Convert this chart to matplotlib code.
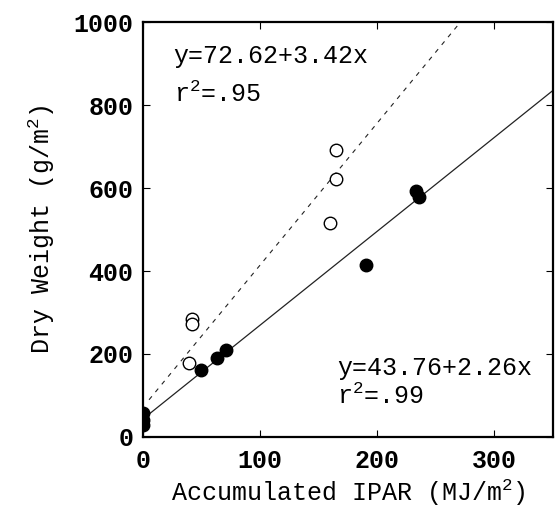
#!/usr/bin/env python3
"""Dry weight vs accumulated IPAR, two regression lines."""

import matplotlib

matplotlib.use("Agg")
import matplotlib.pyplot as plt
import numpy as np

# open circles (dashed fit)
open_x = [39, 42, 42, 160, 165, 165]
open_y = [178, 285, 273, 516, 622, 692]
# filled circles (solid fit)
filled_x = [0, 0, 0, 49, 63, 71, 190, 233, 236]
filled_y = [58, 42, 28, 161, 190, 210, 414, 593, 579]

dashed_fit = (72.62, 3.42)
solid_fit = (43.76, 2.26)
dashed_range = (5, 272)
solid_range = (5, 350)

xticks = [0, 100, 200, 300]
yticks = [0, 200, 400, 600, 800, 1000]

plt.rcParams["mathtext.fontset"] = "custom"
plt.rcParams["mathtext.rm"] = "Liberation Mono"
plt.rcParams["mathtext.it"] = "Liberation Mono"

MONO = "Liberation Mono"

figure = plt.figure(figsize=(5.55, 5.12), dpi=100)
axis = figure.add_axes([0.258, 0.1465, 0.738, 0.8105])

xs = np.array(dashed_range)
axis.plot(xs, dashed_fit[0] + dashed_fit[1] * xs, color="#222222",
          linestyle=(0, (4, 5)), linewidth=0.8)
xs = np.array(solid_range)
axis.plot(xs, solid_fit[0] + solid_fit[1] * xs, color="#222222",
          linewidth=0.9)

axis.plot(open_x, open_y, "o", markerfacecolor="white", markeredgecolor="black",
          markeredgewidth=1.0, markersize=9, zorder=3)
axis.plot(filled_x, filled_y, "o", color="black", markersize=9, zorder=3)

axis.set_xlim(0, 350)
axis.set_ylim(0, 1000)
axis.set_xticks(xticks)
axis.set_yticks(yticks)
axis.tick_params(direction="in", length=5, width=0.8, top=True, right=True,
                 labelsize=18, pad=7)
axis.tick_params(axis="x", pad=9)
for label in axis.get_xticklabels() + axis.get_yticklabels():
    label.set_fontfamily(MONO)
    label.set_fontweight("bold")
for spine in axis.spines.values():
    spine.set_linewidth(1.6)

axis.set_xlabel(r"Accumulated IPAR (MJ/m$^{\mathregular{2}}$)", fontfamily=MONO,
                fontsize=18, labelpad=3)
axis.set_ylabel(r"Dry Weight (g/m$^{\mathregular{2}}$)", fontfamily=MONO,
                fontsize=18, labelpad=12)

axis.text(26, 901, "y=72.62+3.42x", fontfamily=MONO, fontsize=18, va="baseline")
axis.text(26, 807, r"r$^{\mathregular{2}}$=.95", fontfamily=MONO, fontsize=18,
          va="baseline")
axis.text(166, 150, "y=43.76+2.26x", fontfamily=MONO, fontsize=18, va="baseline")
axis.text(166, 80, r"r$^{\mathregular{2}}$=.99", fontfamily=MONO, fontsize=18,
          va="baseline")

figure.savefig("out.png", dpi=100)
plt.close(figure)
